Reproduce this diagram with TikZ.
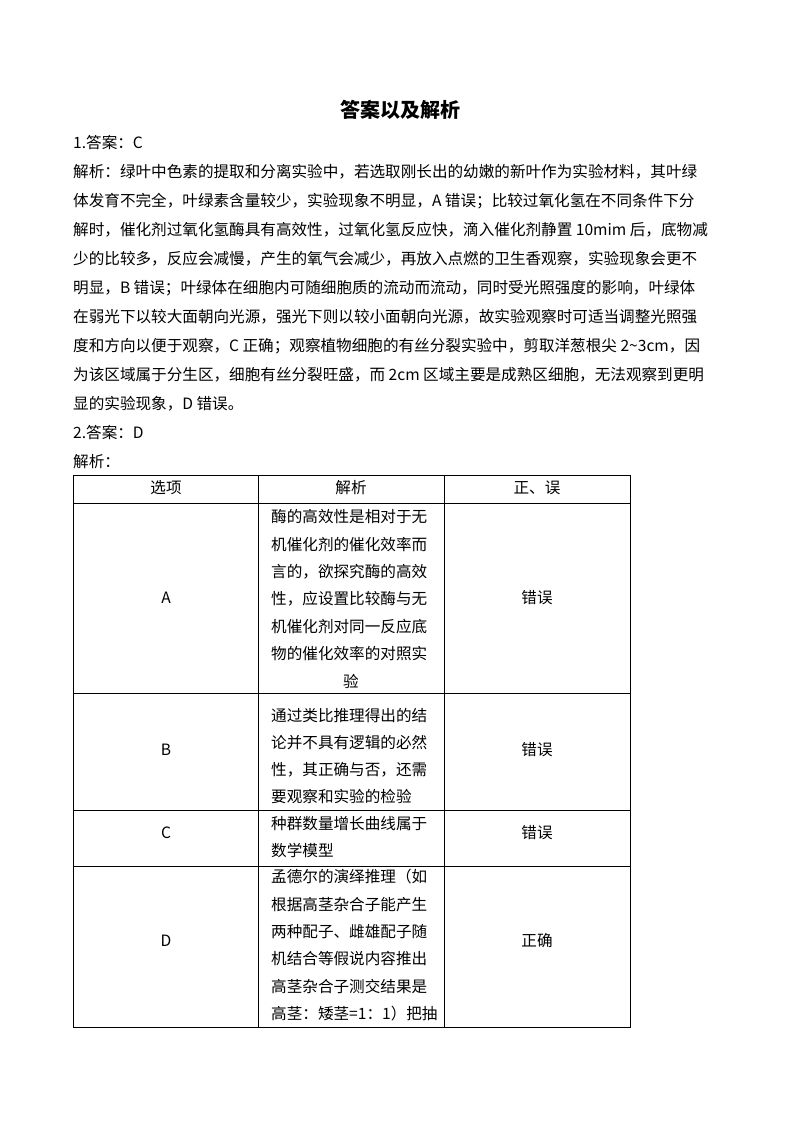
\documentclass[tikz,border=0pt]{standalone}
\usepackage{fontspec}
\setmainfont{Noto Sans CJK SC}
\begin{document}
\begin{tikzpicture}[x=1pt,y=-1pt,
  body/.style={anchor=west,inner sep=0pt,font=\fontsize{15.6}{18}\selectfont},
  cell/.style={anchor=center,inner sep=0pt,font=\fontsize{15.6}{18}\selectfont},
  grid/.style={draw=black,line width=0.6pt}]
\useasboundingbox (0,0) rectangle (800,1132);
\node[cell,font=\fontsize{20}{24}\selectfont\bfseries] (title) at (400,110) {答案以及解析};
\node[body] (l1) at (73,143) {1.答案：C};
\node[body] (l2) at (73,172) {解析：绿叶中色素的提取和分离实验中，若选取刚长出的幼嫩的新叶作为实验材料，其叶绿};
\node[body] (l3) at (73,201) {体发育不完全，叶绿素含量较少，实验现象不明显，A 错误；比较过氧化氢在不同条件下分};
\node[body] (l4) at (73,230) {解时，催化剂过氧化氢酶具有高效性，过氧化氢反应快，滴入催化剂静置 10mim 后，底物减};
\node[body] (l5) at (73,259) {少的比较多，反应会减慢，产生的氧气会减少，再放入点燃的卫生香观察，实验现象会更不};
\node[body] (l6) at (73,288) {明显，B 错误；叶绿体在细胞内可随细胞质的流动而流动，同时受光照强度的影响，叶绿体};
\node[body] (l7) at (73,317) {在弱光下以较大面朝向光源，强光下则以较小面朝向光源，故实验观察时可适当调整光照强};
\node[body] (l8) at (73,346) {度和方向以便于观察，C 正确；观察植物细胞的有丝分裂实验中，剪取洋葱根尖 2\textasciitilde 3cm，因};
\node[body] (l9) at (73,375) {为该区域属于分生区，细胞有丝分裂旺盛，而 2cm 区域主要是成熟区细胞，无法观察到更明};
\node[body] (l10) at (73,404) {显的实验现象，D 错误。};
\node[body] (l11) at (73,433) {2.答案：D};
\node[body] (l12) at (73,462) {解析：};
% table grid
\draw[grid] (73,475) rectangle (630,1027);
\foreach \x in {258,444} \draw[grid] (\x,475) -- (\x,1027);
\foreach \y in {503,693,810,866} \draw[grid] (73,\y) -- (630,\y);
% header
\node[cell] (h1) at (166,488) {选项};
\node[cell] (h2) at (351,488) {解析};
\node[cell] (h3) at (537,488) {正、误};
% row A
\node[cell] (ra) at (166,598) {A};
\node[cell] (ea) at (537,598) {错误};
\foreach \t [count=\i] in {酶的高效性是相对于无,机催化剂的催化效率而,言的，欲探究酶的高效,性，应设置比较酶与无,机催化剂对同一反应底,物的催化效率的对照实}
  \node[body] at (271,{517+27.3*(\i-1)}) {\t};
\node[cell] at (351,681) {验};
% row B
\node[cell] (rb) at (166,750) {B};
\node[cell] (eb) at (537,750) {错误};
\foreach \t [count=\i] in {通过类比推理得出的结,论并不具有逻辑的必然,性，其正确与否，还需,要观察和实验的检验}
  \node[body] at (271,{716+27*(\i-1)}) {\t};
% row C
\node[cell] (rc) at (166,833) {C};
\node[cell] (ec) at (537,833) {错误};
\node[body] at (271,824) {种群数量增长曲线属于};
\node[body] at (271,851) {数学模型};
% row D
\node[cell] (rd) at (166,941) {D};
\node[cell] (ed) at (537,941) {正确};
\foreach \t [count=\i] in {孟德尔的演绎推理（如,根据高茎杂合子能产生,两种配子、雌雄配子随,机结合等假说内容推出,高茎杂合子测交结果是,高茎：矮茎=1：1）把抽}
  \node[body] at (271,{877+27.3*(\i-1)}) {\t};
\end{tikzpicture}
\end{document}
